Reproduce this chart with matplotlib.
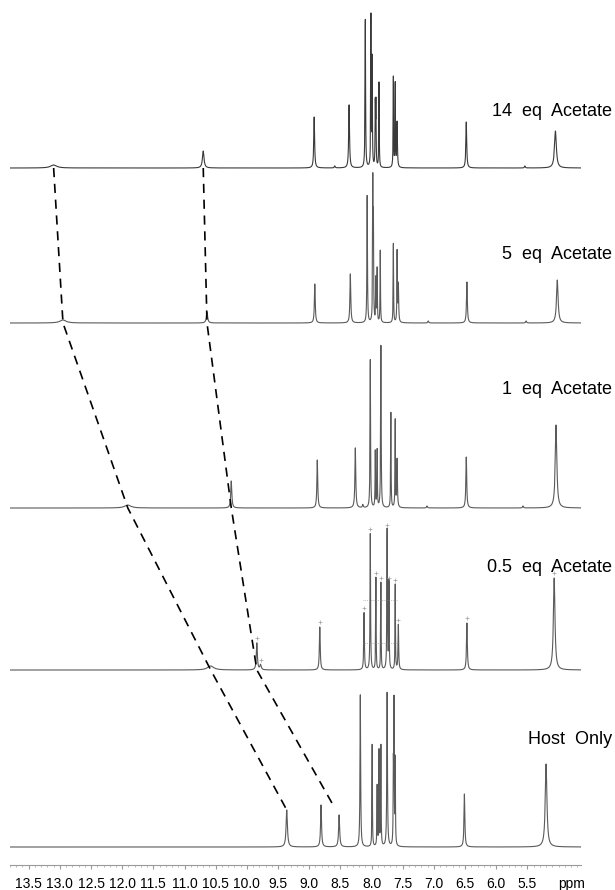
import numpy as np
import matplotlib.pyplot as plt
from matplotlib.ticker import FixedLocator, MultipleLocator

plt.rcParams['font.family'] = ['Liberation Sans', 'DejaVu Sans']

# ---------------------------------------------------------
# Peak tables
# (ppm, height in plot units, line width in ppm)
# ---------------------------------------------------------
host_ppm = [9.36, 8.81, 8.52, 8.18, 7.99, 7.91, 7.88, 7.85, 7.75, 7.65, 7.64, 7.62, 6.51, 5.20]
host_h = [37, 42, 32, 152, 102, 60, 95, 100, 154, 72, 138, 85, 53, 83]
host_w = [0.025, 0.018, 0.02, 0.012, 0.008, 0.008, 0.008, 0.008, 0.012, 0.008, 0.008, 0.008, 0.016, 0.032]

half_ppm = [10.58, 9.84, 9.78, 8.83, 8.12, 8.02, 7.93, 7.85, 7.75, 7.72, 7.62, 7.57, 6.47, 5.07]
half_h = [4, 27, 5, 43, 57, 136, 92, 87, 140, 87, 85, 45, 47, 92]
half_w = [0.12, 0.02, 0.025, 0.016, 0.012, 0.01, 0.008, 0.008, 0.01, 0.008, 0.008, 0.012, 0.016, 0.03]

one_ppm = [11.91, 10.25, 8.87, 8.26, 8.14, 8.02, 7.94, 7.91, 7.85, 7.69, 7.62, 7.59, 7.11, 6.48, 5.57, 5.04]
one_h = [3, 27, 48, 60, 3, 148, 56, 57, 162, 95, 87, 48, 2, 51, 2, 83]
one_w = [0.12, 0.02, 0.016, 0.016, 0.016, 0.01, 0.008, 0.008, 0.01, 0.008, 0.008, 0.012, 0.016, 0.016, 0.016, 0.03]

five_ppm = [12.95, 10.64, 8.91, 8.34, 8.07, 7.98, 7.97, 7.93, 7.91, 7.86, 7.65, 7.59, 7.57, 7.09, 6.47, 5.52, 5.02]
five_h = [3, 11, 39, 49, 127, 136, 96, 43, 53, 72, 79, 70, 38, 2, 41, 2, 43]
five_w = [0.12, 0.025, 0.016, 0.016, 0.01, 0.008, 0.008, 0.008, 0.008, 0.008, 0.008, 0.008, 0.012, 0.016, 0.016, 0.016, 0.03]

fourteen_ppm = [13.10, 10.70, 8.92, 8.59, 8.36, 8.10, 8.01, 7.99, 7.94, 7.93, 7.88, 7.65, 7.62, 7.59, 6.48, 5.54, 5.05]
fourteen_h = [3, 17, 51, 2, 63, 148, 150, 107, 60, 61, 85, 90, 83, 45, 46, 2, 37]
fourteen_w = [0.12, 0.03, 0.016, 0.016, 0.016, 0.01, 0.008, 0.008, 0.008, 0.008, 0.008, 0.008, 0.008, 0.012, 0.016, 0.016, 0.035]

spectrum_labels = ['14  eq  Acetate', '5  eq  Acetate', '1  eq  Acetate', '0.5  eq  Acetate', 'Host  Only']

# NH signals followed through the titration (top trace -> host only)
nh_a_ppm = [13.10, 12.95, 11.91, 10.58, 9.36]
nh_b_ppm = [10.70, 10.64, 10.25, 9.84, 8.59]
nh_a_end = 37   # height above host baseline where the lines stop
nh_b_end = 39

# integration levels drawn on the 0.5 eq trace
half_integral_ppm = [8.14, 7.57]
half_integral_h = [70, 27]

tick_vals = [13.5, 13.0, 12.5, 12.0, 11.5, 11.0, 10.5, 10.0, 9.5, 9.0, 8.5, 8.0, 7.5, 7.0, 6.5, 6.0, 5.5]


def lorentz_sum(x, centres, heights, widths):
    y = np.zeros_like(x)
    for c, h, w in zip(centres, heights, widths):
        y += h / (1.0 + ((x - c) / (w / 2.0)) ** 2)
    return y


# --- layout ---
stack_offsets = [697, 542, 357, 195, 18]
label_ypx = [112, 255, 390, 568, 739]
trace_colors = ['#3a3a3a', '#5a5a5a', '#5a5a5a', '#5a5a5a', '#5a5a5a']

fig = plt.figure(figsize=(6.15, 8.9), dpi=100)
ax = fig.add_axes([10 / 615, 25 / 890, 571 / 615, 865 / 890])

ppm = np.linspace(4.64, 13.8, 60000)
tables = [
    (fourteen_ppm, fourteen_h, fourteen_w),
    (five_ppm, five_h, five_w),
    (one_ppm, one_h, one_w),
    (half_ppm, half_h, half_w),
    (host_ppm, host_h, host_w),
]
for (c, h, w), off, col in zip(tables, stack_offsets, trace_colors):
    ax.plot(ppm, off + lorentz_sum(ppm, c, h, w), color=col, lw=0.8)

# peak-pick marks and integral levels on the 0.5 eq trace
ax.plot(half_ppm[1:], [stack_offsets[3] + v + 5 for v in half_h[1:]],
        ls='none', marker='+', ms=3, mew=0.5, color='#a0a0a0')
for lvl in half_integral_h:
    ax.plot(half_integral_ppm, [stack_offsets[3] + lvl] * 2, color='#8a8a8a', lw=0.5, ls=':')

# dashed guides for the shifting NH peaks
ya = list(stack_offsets)
ya[-1] += nh_a_end
yb = list(stack_offsets)
yb[-1] += nh_b_end
for xs, ys in [(nh_a_ppm, ya), (nh_b_ppm, yb)]:
    ax.plot(xs, ys, color='black', lw=1.2, ls=(0, (5.5, 4)))

ax.set_xlim(13.8, 4.64)
ax.set_ylim(0, 865)
for side in ['left', 'right', 'top']:
    ax.spines[side].set_visible(False)
ax.spines['bottom'].set_color('#9a9a9a')
ax.spines['bottom'].set_linewidth(0.8)
ax.set_yticks([])
ax.xaxis.set_major_locator(FixedLocator(tick_vals))
ax.xaxis.set_minor_locator(MultipleLocator(0.1))
ax.set_xticklabels([f'{v:.1f}' for v in tick_vals])
ax.tick_params(axis='x', which='major', length=3, color='#9a9a9a', pad=6, labelsize=10)
ax.tick_params(axis='x', which='minor', length=1.5, color='#b0b0b0')

fig.text(572 / 615, 1 - 884 / 890, 'ppm', ha='center', va='center', fontsize=10)

for txt, ypx in zip(spectrum_labels, label_ypx):
    fig.text(612 / 615, 1 - ypx / 890, txt, ha='right', va='center', fontsize=13)

fig.savefig('out.png', dpi=100, facecolor='white')
